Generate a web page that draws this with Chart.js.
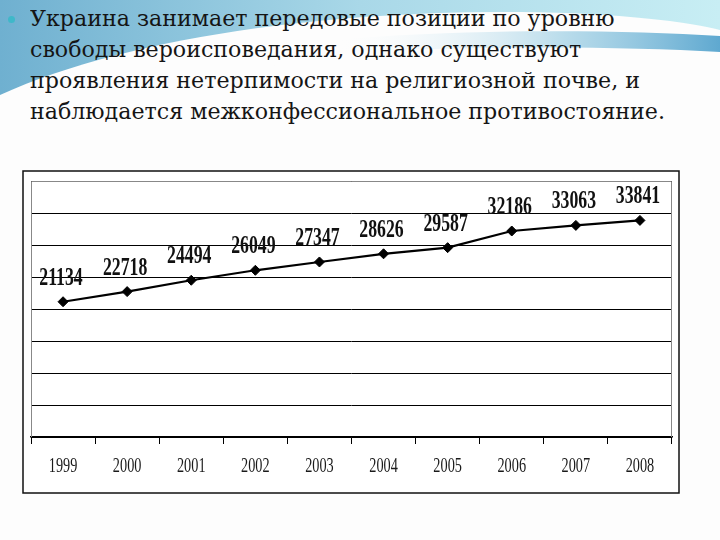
<!DOCTYPE html>
<html>
<head>
<meta charset="utf-8">
<script src="https://cdn.jsdelivr.net/npm/chart.js@4/dist/chart.umd.min.js"></script>
<style>
  html, body { margin:0; padding:0; width:720px; height:540px; overflow:hidden; background:#fdfdfd; }
  #bg { position:absolute; left:0; top:0; }
  .ln { position:absolute; left:30px; white-space:nowrap; font-family:"DejaVu Serif", serif; color:#151515; line-height:1; transform-origin:0 0; }
  #bullet { position:absolute; left:8px; top:16px; width:7px; height:7px; border-radius:50%; background:#3fb8c9; }
  #wrap { position:absolute; left:0; top:0; width:720px; height:540px; }
</style>
</head>
<body>
<svg id="bg" width="720" height="540">
  <defs>
    <linearGradient id="g1" x1="0" y1="0" x2="1" y2="0">
      <stop offset="0" stop-color="#6fb0d0"/>
      <stop offset="0.5" stop-color="#a9d8e8"/>
      <stop offset="1" stop-color="#c8eef4"/>
    </linearGradient>
    <linearGradient id="g2" x1="0" y1="0" x2="1" y2="0">
      <stop offset="0" stop-color="#ffffff" stop-opacity="0"/>
      <stop offset="0.6" stop-color="#8cc6df" stop-opacity="0.6"/>
      <stop offset="1" stop-color="#4d9fcb" stop-opacity="0.9"/>
    </linearGradient>
  </defs>
  <rect x="0" y="0" width="720" height="140" fill="url(#g1)"/>
  <path d="M0,95 C120,40 320,10 520,12 C620,13 690,22 720,30 L720,540 L0,540 Z" fill="#fdfdfd"/>
  <path d="M330,40 C480,28 620,30 720,36 L720,52 C620,46 480,46 330,52 Z" fill="url(#g2)"/>
  <path d="M0,110 C150,60 300,40 330,40 L330,60 C300,60 150,80 0,130 Z" fill="#fdfdfd"/>
</svg>
<div id="bullet"></div>
<div class="ln" id="l1" style="top:7px">Украина занимает передовые позиции по уровню</div>
<div class="ln" id="l2" style="top:38px">свободы вероисповедания, однако существуют</div>
<div class="ln" id="l3" style="top:69px">проявления нетерпимости на религиозной почве, и</div>
<div class="ln" id="l4" style="top:100px">наблюдается межконфессиональное противостояние.</div>
<div id="wrap"><canvas id="c" width="720" height="540"></canvas></div>
<script>
// ---- data ----
const years = ["1999","2000","2001","2002","2003","2004","2005","2006","2007","2008"];
const counts = [21134, 22718, 24494, 26049, 27347, 28626, 29587, 32186, 33063, 33841];
const yMin = 0, yMax = 40000, yStep = 5000;

// heading: slightly larger glyphs, horizontally compressed to the reference line width
(function(){
  const fs = 23;
  const l4 = document.getElementById('l4');
  document.querySelectorAll('.ln').forEach(e => e.style.fontSize = fs + 'px');
  const w = l4.getBoundingClientRect().width;
  const sx = 635 / w;
  document.querySelectorAll('.ln').forEach(e => e.style.transform = 'scaleX(' + sx + ')');
})();

function drawScaled(ctx, text, x, y, sx) {
  ctx.save();
  ctx.translate(x, y);
  ctx.scale(sx, 1);
  ctx.fillText(text, 0, 0);
  ctx.restore();
}

const framePlugin = {
  id: 'frame',
  beforeDraw(chart) {
    const ctx = chart.ctx;
    ctx.save();
    ctx.fillStyle = '#ffffff';
    ctx.fillRect(23, 171, 656, 322);
    ctx.strokeStyle = '#111';
    ctx.lineWidth = 1.5;
    ctx.strokeRect(23, 171, 656, 322);
    ctx.restore();
  },
  afterDraw(chart) {
    const a = chart.chartArea, ctx = chart.ctx;
    ctx.save();
    ctx.strokeStyle = '#888';
    ctx.lineWidth = 1;
    ctx.beginPath();
    ctx.moveTo(a.left + 0.5, a.bottom);
    ctx.lineTo(a.left + 0.5, a.top + 0.5);
    ctx.lineTo(a.right - 0.5, a.top + 0.5);
    ctx.lineTo(a.right - 0.5, a.bottom);
    ctx.stroke();
    // value labels
    const meta = chart.getDatasetMeta(0);
    ctx.fillStyle = '#111';
    ctx.font = 'bold 25px "Liberation Serif", serif';
    ctx.textAlign = 'center';
    ctx.textBaseline = 'alphabetic';
    meta.data.forEach((p, i) => {
      drawScaled(ctx, String(counts[i]), p.x - 2, p.y - 17, 0.71);
    });
    // category labels
    const xs = chart.scales.x;
    ctx.font = '21px "Liberation Serif", serif';
    ctx.fillStyle = '#1a1a1a';
    years.forEach((y, i) => {
      drawScaled(ctx, y, xs.getPixelForValue(i), 472, 0.68);
    });
    ctx.restore();
  }
};

new Chart(document.getElementById('c'), {
  type: 'line',
  data: {
    labels: years,
    datasets: [{
      data: counts,
      borderColor: '#000',
      borderWidth: 2.2,
      backgroundColor: '#000',
      pointStyle: 'rectRot',
      pointRadius: 5,
      pointBorderWidth: 1,
      tension: 0,
      fill: false
    }]
  },
  options: {
    responsive: false,
    animation: false,
    devicePixelRatio: 1,
    layout: { padding: { left: 31, right: 48, top: 181, bottom: 0 } },
    plugins: { legend: { display: false }, tooltip: { enabled: false } },
    scales: {
      x: {
        offset: true,
        grid: { offset: true, drawOnChartArea: false, drawTicks: true, tickLength: 7, color: '#000' },
        border: { display: true, color: '#000', width: 1.5 },
        ticks: { display: false },
        afterFit(s) { s.height = 103; }
      },
      y: {
        min: yMin, max: yMax,
        grid: { color: '#000', lineWidth: 1, drawTicks: false },
        border: { display: false },
        ticks: { display: false, stepSize: yStep },
        afterFit(s) { s.width = 0; }
      }
    }
  },
  plugins: [framePlugin]
});
</script>
</body>
</html>
